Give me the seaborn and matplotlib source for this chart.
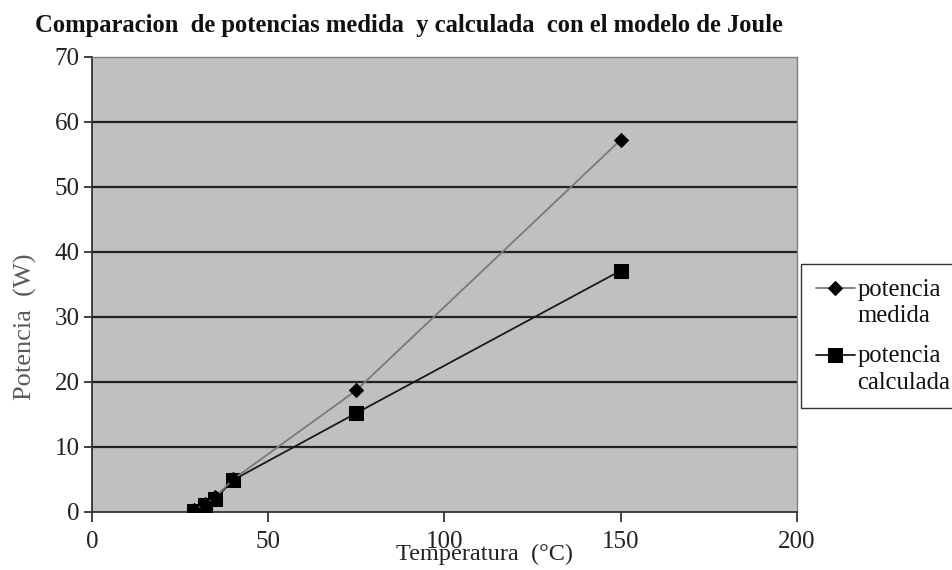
import matplotlib
matplotlib.use("Agg")
import matplotlib.pyplot as plt
from matplotlib.lines import Line2D
from matplotlib.legend_handler import HandlerLine2D
import seaborn as sns
import pandas as pd
import numpy as np

temperatura = [29, 32, 35, 40, 75, 150]
potencia_medida = [0.3, 1.2, 2.3, 5.0, 18.7, 57.2]
potencia_calculada = [0.2, 1.0, 2.0, 4.9, 15.2, 37.1]
xticks = [0, 50, 100, 150, 200]
yticks = [0, 10, 20, 30, 40, 50, 60, 70]

sns.set_theme(style="white")
plt.rcParams['font.family'] = ['Liberation Serif', 'DejaVu Serif']


class UpHandler(HandlerLine2D):
    def __init__(self, dy, **kw):
        super().__init__(**kw)
        self.dy = dy

    def create_artists(self, legend, orig_handle, xdescent, ydescent, width,
                       height, fontsize, trans):
        arts = super().create_artists(legend, orig_handle, xdescent, ydescent,
                                      width, height, fontsize, trans)
        for a in arts:
            a.set_ydata(np.asarray(a.get_ydata(), dtype=float) + self.dy)
        return arts


fig = plt.figure(figsize=(9.52, 5.70), dpi=100)
ax = fig.add_axes([0.0966, 0.1018, 0.7404, 0.7987])
ax.set_facecolor('#C0C0C0')

df_m = pd.DataFrame({'T': temperatura, 'P': potencia_medida})
df_c = pd.DataFrame({'T': temperatura, 'P': potencia_calculada})

sns.lineplot(data=df_m, x='T', y='P', ax=ax, color='#7a7a7a', lw=1.3,
             marker='D', markersize=7, markerfacecolor='black', markeredgecolor='black',
             label='potencia\nmedida', zorder=4)
sns.lineplot(data=df_c, x='T', y='P', ax=ax, color='#1a1a1a', lw=1.3,
             marker='s', markersize=10, markerfacecolor='black', markeredgecolor='black',
             label='potencia\ncalculada', zorder=3)

ax.set_xlim(0, 200)
ax.set_ylim(0, 70)
ax.set_xticks(xticks)
ax.set_yticks(yticks)
for y in yticks[1:-1]:
    ax.axhline(y, color='#222222', lw=1.6, zorder=1)

for s in ['left', 'bottom']:
    ax.spines[s].set_color('#333333')
    ax.spines[s].set_linewidth(1.3)
for s in ['top', 'right']:
    ax.spines[s].set_color('#808080')
    ax.spines[s].set_linewidth(1.0)

ax.tick_params(axis='both', which='major', direction='out', width=1.3,
               color='#333333', labelsize=18, labelcolor='#222222',
               bottom=True, left=True)
ax.tick_params(axis='x', length=7.5, pad=6)
ax.tick_params(axis='y', length=6, pad=3)

ax.set_xlabel('Temperatura  (°C)', fontsize=17.5, color='#222222')
ax.xaxis.set_label_coords(0.557, -0.069)
ax.set_ylabel('Potencia  (W)', fontsize=19, color='#5a5a5a')
ax.yaxis.set_label_coords(-0.078, 0.407)

fig.text(0.037, 1 - 32 / 570, 'Comparacion  de potencias medida  y calculada  con el modelo de Joule',
         fontsize=17.7, fontweight='bold', color='#111111', ha='left', va='baseline')

leg = ax.legend(loc='upper left', bbox_to_anchor=(1.0057, 0.545), frameon=True,
                fontsize=17.7, handlelength=1.6, handletextpad=0.1,
                labelspacing=0.75, borderpad=0.6, borderaxespad=0, fancybox=False,
                handler_map={Line2D: UpHandler(10.5)})
leg.get_frame().set_edgecolor('black')
leg.get_frame().set_linewidth(1.0)
leg.get_frame().set_facecolor('white')
for t in leg.get_texts():
    t.set_linespacing(1.25)
    t.set_color('#111111')

fig.savefig('out.png', dpi=100)
